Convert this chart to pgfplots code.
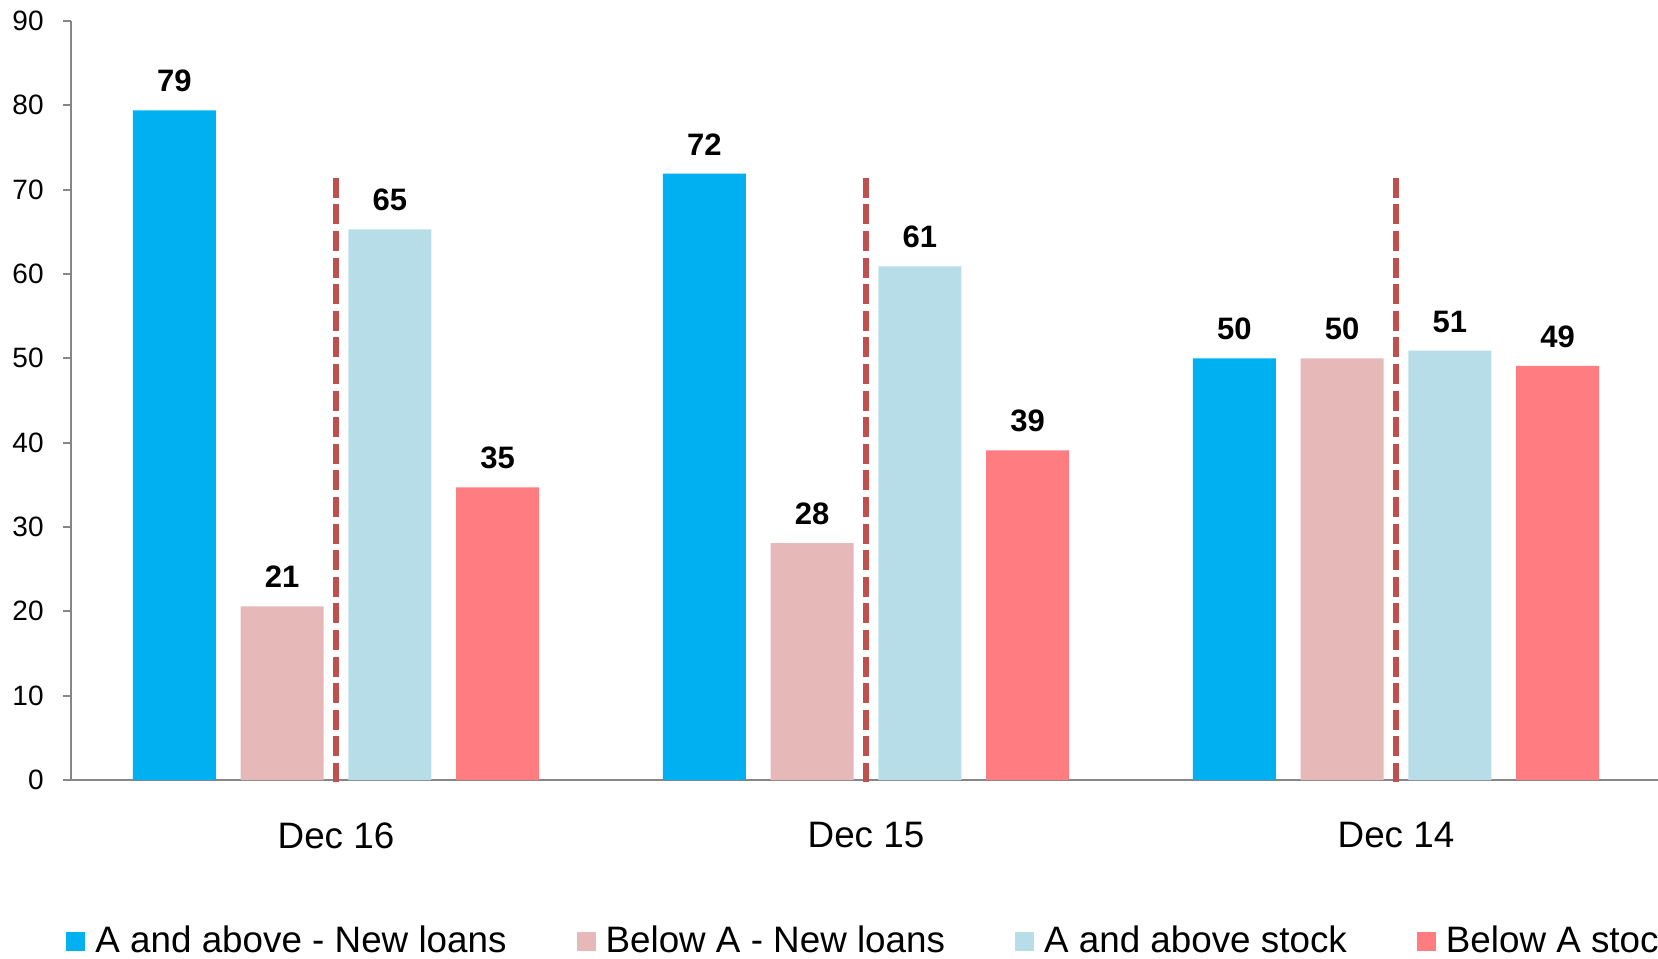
\documentclass[border=0pt]{standalone}
\usepackage{fontspec}
\setmainfont{Liberation Sans}
\usepackage{pgfplots}
\pgfplotsset{compat=1.18}

\definecolor{aboveNew}{HTML}{00B0F0}
\definecolor{belowNew}{HTML}{E6B9B8}
\definecolor{aboveStock}{HTML}{B7DEE8}
\definecolor{belowStock}{HTML}{FF7C80}
\definecolor{splitLine}{HTML}{C0504D}
\definecolor{axisGray}{HTML}{868686}

\begin{document}
\begin{tikzpicture}
\begin{axis}[
  scale only axis,
  width=795pt, height=379.5pt,
  xmin=-0.5, xmax=2.5, ymin=0, ymax=90,
  clip=false,
  axis lines=left,
  axis line style={-, draw=axisGray, line width=1pt},
  ybar, bar width=41.5pt,
  xtick=\empty,
  minor xtick={-0.5,0.5,1.5,2.5},
  extra x ticks={0,1,2},
  extra x tick labels={Dec 16,Dec 15,Dec 14},
  extra x tick style={major tick length=0pt},
  ytick={0,10,...,90},
  tick align=outside,
  tick style={draw=axisGray, line width=1pt},
  major tick length=4pt, minor tick length=5.5pt,
  /pgf/number format/assume math mode=true,
  yticklabel style={font=\fontsize{14}{14}\selectfont, anchor=east, inner sep=0pt, xshift=-9.5pt},
  xticklabel style={font=\fontsize{18.4}{18.4}\selectfont, anchor=north, inner sep=0pt, yshift=-21pt},
  nodes near coords={\pgfmathprintnumber[fixed,precision=0]{\pgfplotspointmeta}},
  every node near coord/.append style={font=\bfseries\fontsize{15.5}{15.5}\selectfont, inner sep=0pt, anchor=south, yshift=9pt},
  legend columns=-1,
  legend image code/.code={\fill[#1] (0pt,-4.75pt) rectangle (9.5pt,4.75pt);},
  legend style={at={(axis description cs:0,0)}, anchor=west, xshift=-2.5pt, yshift=-80.5pt,
    draw=none, fill=none, inner sep=0pt, font=\fontsize{18.4}{18.4}\selectfont,
    cells={anchor=west}, nodes={inner sep=0pt},
    /tikz/every odd column/.style={column sep=5pt},
    /tikz/every even column/.style={column sep=35pt}},
]
\addplot[fill=aboveNew, draw=none, bar shift=-80.8pt] coordinates {(0,79.4) (1,71.9) (2,50.0)};
\addlegendentry{A and above - New loans}
\addplot[fill=belowNew, draw=none, bar shift=-26.9pt] coordinates {(0,20.6) (1,28.1) (2,50.0)};
\addlegendentry{Below A - New loans}
\addplot[fill=aboveStock, draw=none, bar shift=26.9pt] coordinates {(0,65.3) (1,60.9) (2,50.9)};
\addlegendentry{A and above stock}
\addplot[fill=belowStock, draw=none, bar shift=80.8pt] coordinates {(0,34.7) (1,39.1) (2,49.1)};
\addlegendentry{Below A stock}

% dashed separators between new loans and stock
\addplot[forget plot, sharp plot, nodes near coords=, draw=splitLine, line width=3.3pt, dash pattern=on 10pt off 3.3pt] coordinates {(0,71.4) (0,-0.2)};
\addplot[forget plot, sharp plot, nodes near coords=, draw=splitLine, line width=3.3pt, dash pattern=on 10pt off 3.3pt] coordinates {(1,71.4) (1,-0.2)};
\addplot[forget plot, sharp plot, nodes near coords=, draw=splitLine, line width=3.3pt, dash pattern=on 10pt off 3.3pt] coordinates {(2,71.4) (2,-0.2)};
\end{axis}
\pgfresetboundingbox
\path[use as bounding box] (-35.5pt,-89pt) rectangle (793.5pt,390pt);
\end{tikzpicture}
\end{document}
